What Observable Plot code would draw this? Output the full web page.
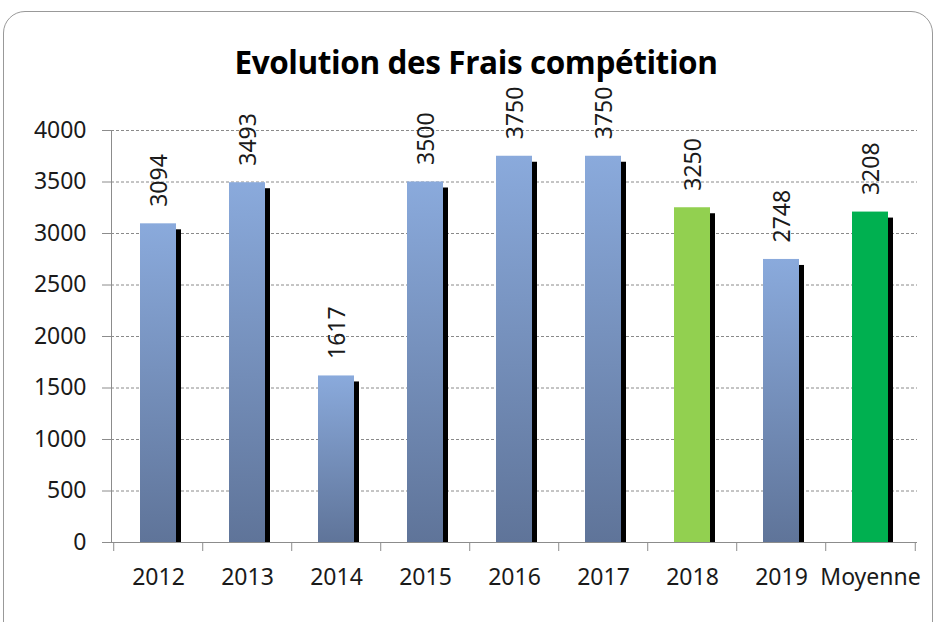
<!DOCTYPE html>
<html>
<head>
<meta charset="utf-8">
<script src="https://cdn.jsdelivr.net/npm/d3@7"></script>
<script src="https://cdn.jsdelivr.net/npm/@observablehq/plot@0.6"></script>
<style>
  html, body { margin: 0; padding: 0; background: #fff; overflow: hidden; }
  #page { position: relative; width: 936px; height: 622px; overflow: hidden; }
  #frame { position: absolute; left: 3px; top: 11px; width: 930px; height: 700px;
           border: 1.5px solid #999; border-radius: 22px; box-sizing: border-box; }
  #title { position: absolute; left: 0; width: 952px; top: 40px; text-align: center;
           font-family: "Open Sans", "Noto Sans", sans-serif; font-weight: bold; font-size: 31.5px;
           color: #000; line-height: 44px; letter-spacing: -0.4px; }
  #chart { position: absolute; left: 0; top: 0; }
</style>
</head>
<body>
<div id="page">
  <div id="frame"></div>
  <div id="chart"></div>
  <div id="title">Evolution des Frais compétition</div>
</div>
<script>
const categories = ["2012", "2013", "2014", "2015", "2016", "2017", "2018", "2019", "Moyenne"];
const values = [3094, 3493, 1617, 3500, 3750, 3750, 3250, 2748, 3208];
const yTicks = [0, 500, 1000, 1500, 2000, 2500, 3000, 3500, 4000];

const data = categories.map((c, i) => ({cat: c, value: values[i]}));

const W = 936, H = 622, ML = 111, MR = 19, MT = 130, MB = 80;
const step = (W - ML - MR) / categories.length;

const fillFor = d => d.cat === "2018" ? "#92d050" : d.cat === "Moyenne" ? "#00b050" : "url(#barGrad)";

const svg = Plot.plot({
  width: W, height: H,
  marginLeft: ML, marginRight: MR, marginTop: MT, marginBottom: MB,
  style: {fontFamily: "'Noto Sans', 'Open Sans', sans-serif", fontSize: "23px", color: "#1a1a1a", background: "transparent"},
  x: {domain: categories, paddingInner: 0.6, paddingOuter: 0.3, label: null},
  y: {domain: [0, 4000], label: null},
  color: {type: "identity"},
  marks: [
    Plot.gridY(yTicks, {stroke: "#8a8a8a", strokeOpacity: 1, strokeDasharray: "3,2"}),
    Plot.barY(data, {x: "cat", y: "value", fill: "#000", dx: 5, dy: 6, clip: true}),
    Plot.barY(data, {x: "cat", y: "value", fill: fillFor}),
    Plot.ruleY([0], {stroke: "#8c8c8c"}),
    Plot.frame({anchor: "left", stroke: "#8c8c8c"}),
    Plot.axisY(yTicks, {tickSize: 9, tickPadding: 16, stroke: "#8c8c8c", label: null, fontSize: 23, tickFormat: d => String(d)}),
    Plot.axisX({tickSize: 0, tickPadding: 26, label: null, fontSize: 23}),
    Plot.axisX(categories, {tickSize: 9, tickFormat: () => "", dx: -step / 2, stroke: "#8c8c8c", label: null}),
    Plot.axisX(["Moyenne"], {tickSize: 9, tickFormat: () => "", dx: step / 2, stroke: "#8c8c8c", label: null}),
    Plot.text(data, {x: "cat", y: "value", text: d => String(d.value), rotate: -90, textAnchor: "start",
                     dy: -17, dx: 1, fontSize: 23, fill: "#1a1a1a"})
  ]
});

const defs = d3.select(svg).insert("defs", ":first-child");
const g = defs.append("linearGradient").attr("id", "barGrad")
  .attr("x1", 0).attr("y1", 0).attr("x2", 0).attr("y2", 1);
g.append("stop").attr("offset", "0%").attr("stop-color", "#8aaadc");
g.append("stop").attr("offset", "100%").attr("stop-color", "#5f7499");

document.getElementById("chart").appendChild(svg);
</script>
</body>
</html>
